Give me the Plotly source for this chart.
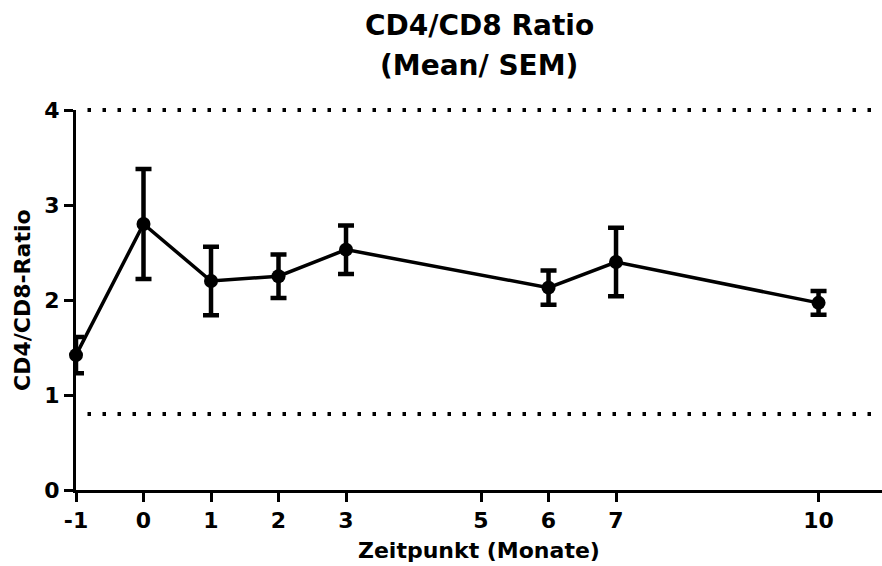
import plotly.graph_objects as go

# Months relative to baseline and the CD4/CD8 ratio (mean and SEM)
months = [-1, 0, 1, 2, 3, 6, 7, 10]
ratio_mean = [1.42, 2.80, 2.20, 2.25, 2.53, 2.13, 2.40, 1.97]
ratio_sem = [0.19, 0.58, 0.36, 0.23, 0.255, 0.18, 0.36, 0.125]

# Tick labels shown on the time axis
x_ticks = [-1, 0, 1, 2, 3, 5, 6, 7, 10]
y_ticks = [0, 1, 2, 3, 4]

# Reference range limits drawn as dotted lines
reference_levels = [4.0, 0.8]

title_lines = ["CD4/CD8 Ratio", "(Mean/ SEM)"]

FONT = "DejaVu Sans"
BLACK = "#000000"
Y_RANGE = [0, 4]

fig = go.Figure()

fig.add_trace(go.Scatter(
    x=months,
    y=ratio_mean,
    mode="lines+markers",
    line=dict(color=BLACK, width=3.5),
    marker=dict(color=BLACK, size=14, symbol="circle"),
    error_y=dict(type="data", array=ratio_sem, visible=True,
                 color=BLACK, thickness=4.5, width=8),
    showlegend=False,
    cliponaxis=False,
))

# dotted limits; placed in paper units so the top one is not clipped at the frame
for level in reference_levels:
    frac = (level - Y_RANGE[0]) / (Y_RANGE[1] - Y_RANGE[0])
    fig.add_shape(type="line", xref="paper", x0=0, x1=1,
                  yref="paper", y0=frac, y1=frac,
                  line=dict(color=BLACK, width=4, dash="0px,11.5px,3.5px,0px"),
                  layer="below")

annotations = [
    dict(text="<b>Zeitpunkt (Monate)</b>", xref="paper", yref="paper",
         x=0.5, y=-0.158, xanchor="center", yanchor="middle",
         showarrow=False, font=dict(family=FONT, size=22, color=BLACK)),
    dict(text="<b>CD4/CD8-Ratio</b>", xref="paper", yref="paper",
         x=-0.067, y=0.5, xanchor="center", yanchor="middle",
         textangle=-90, showarrow=False,
         font=dict(family=FONT, size=22, color=BLACK)),
]
# two-line chart heading, centred over the plotting area
for line_text, ypos in zip(title_lines, [1.222, 1.118]):
    annotations.append(dict(
        text=f"<b>{line_text}</b>", xref="paper", yref="paper",
        x=0.5, y=ypos, xanchor="center", yanchor="middle",
        showarrow=False, font=dict(family=FONT, size=28, color=BLACK)))

axis_style = dict(
    showgrid=False,
    zeroline=False,
    showline=True,
    linecolor=BLACK,
    linewidth=3,
    ticks="outside",
    ticklen=9,
    tickwidth=3,
    tickcolor=BLACK,
    tickfont=dict(family=FONT, size=22, color=BLACK, weight="bold"),
)

fig.update_layout(
    width=882,
    height=566,
    margin=dict(l=76, r=0, t=110, b=76),
    paper_bgcolor="white",
    plot_bgcolor="white",
    font=dict(family=FONT, color=BLACK),
    xaxis=dict(range=[-1, 10.94], tickmode="array", tickvals=x_ticks,
               ticktext=[str(t) for t in x_ticks], **axis_style),
    yaxis=dict(range=Y_RANGE, tickmode="array", tickvals=y_ticks, **axis_style),
    annotations=annotations,
)

fig.write_html("out.html")
